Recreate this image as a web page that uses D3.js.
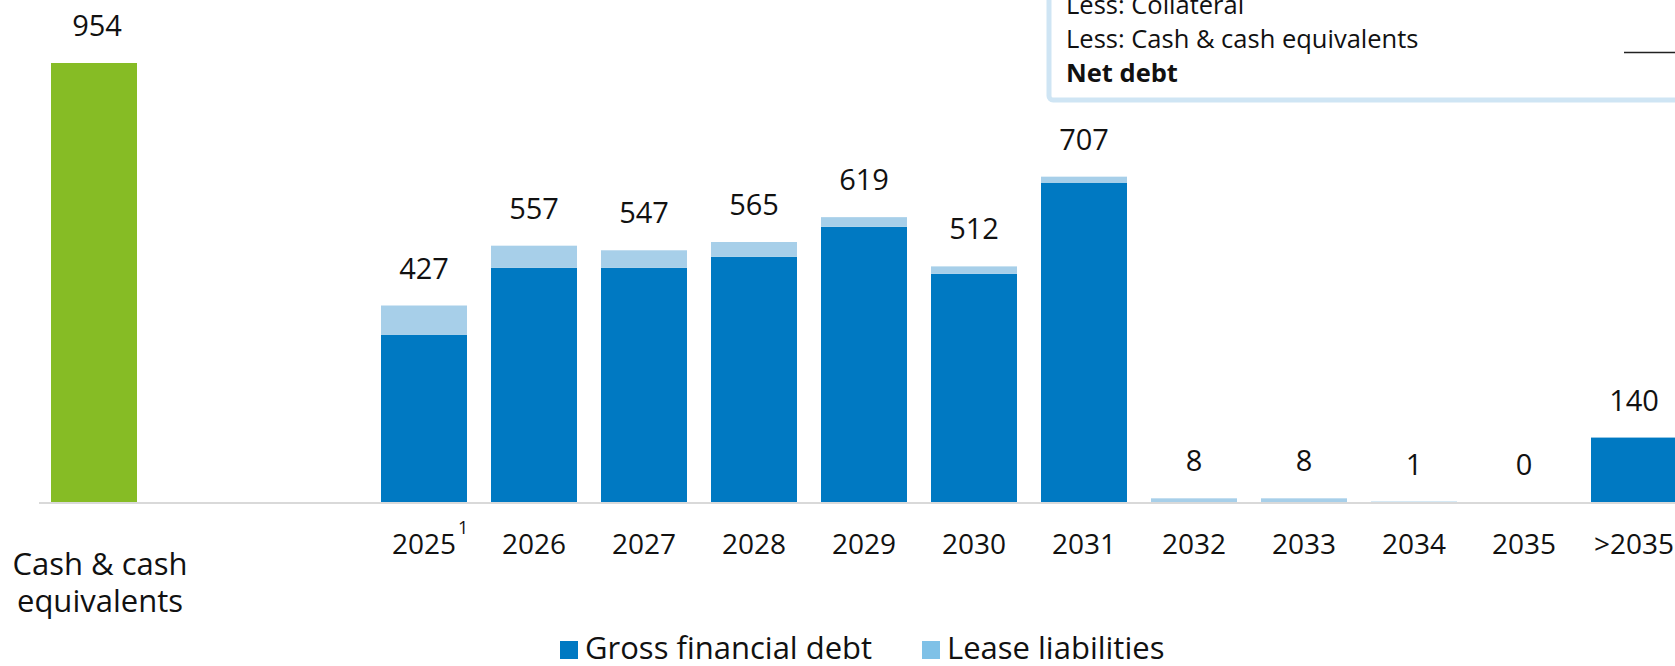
<!DOCTYPE html>
<html>
<head>
<meta charset="utf-8">
<script src="https://cdn.jsdelivr.net/npm/d3@7"></script>
<style>
  html, body { margin: 0; padding: 0; background: #fff; overflow: hidden; }
  svg { display: block; font-family: "Open Sans", "Noto Sans", sans-serif; }
</style>
</head>
<body>
<svg width="1675" height="666"></svg>
<script>
var width = 1675, height = 666;

// data
var cashLabel = ["Cash & cash", "equivalents"];
var cashValue = 954;
var years = ["2025", "2026", "2027", "2028", "2029", "2030", "2031", "2032", "2033", "2034", "2035", ">2035"];
var grossDebt = [363, 509, 509, 533, 598, 496, 694, 0, 0, 0, 0, 140];
var leaseLiab = [64, 48, 38, 32, 21, 16, 13, 8, 8, 1, 0, 0];
var totals = [427, 557, 547, 565, 619, 512, 707, 8, 8, 1, 0, 140];
var legendNames = ["Gross financial debt", "Lease liabilities"];
var tableRows = ["Less: Collateral", "Less: Cash & cash equivalents", "Net debt"];

var green = "#86bc25", dark = "#0079c2", light = "#a7cfe9", lightLegend = "#7fc1e7";

var svg = d3.select("svg")
    .attr("width", width)
    .attr("height", height);

// slots: cash bar, two empty slots, then the years
var slots = ["cash", "gap1", "gap2"].concat(years);

var x = d3.scaleBand()
    .domain(slots)
    .range([39, 39 + 110 * slots.length])
    .paddingInner(24 / 110)
    .paddingOuter(12 / 110);

var y = d3.scaleLinear()
    .domain([0, 954])
    .range([502, 63]);

// table box at the top right (cut off by the frame)
var box = svg.append("g");
box.append("rect")
    .attr("x", 1049).attr("y", -40)
    .attr("width", 700).attr("height", 140)
    .attr("rx", 4)
    .attr("fill", "#fff")
    .attr("stroke", "#cfe5f4")
    .attr("stroke-width", 5);
box.selectAll("text")
    .data(tableRows)
    .enter().append("text")
    .attr("x", 1066)
    .attr("y", function (d, i) { return 14 + i * 34; })
    .attr("font-size", 25.5)
    .attr("font-weight", function (d, i) { return i == 2 ? "bold" : "normal"; })
    .attr("fill", "#111")
    .text(function (d) { return d; });
box.append("line")
    .attr("x1", 1624).attr("x2", 1680)
    .attr("y1", 52.5).attr("y2", 52.5)
    .attr("stroke", "#222")
    .attr("stroke-width", 1.5);

// axis line
svg.append("line")
    .attr("x1", 39).attr("x2", width)
    .attr("y1", 503).attr("y2", 503)
    .attr("stroke", "#d9d9d9")
    .attr("stroke-width", 2);

// cash bar
svg.append("rect")
    .attr("x", x("cash"))
    .attr("y", y(cashValue))
    .attr("width", x.bandwidth())
    .attr("height", y(0) - y(cashValue))
    .attr("fill", green);

svg.append("text")
    .attr("x", x("cash") + x.bandwidth() / 2 + 3)
    .attr("y", y(cashValue) - 27)
    .attr("text-anchor", "middle")
    .attr("font-size", 29)
    .attr("fill", "#111")
    .text(cashValue);

svg.selectAll(".cashlab")
    .data(cashLabel)
    .enter().append("text")
    .attr("class", "cashlab")
    .attr("x", x("cash") + x.bandwidth() / 2 + 6)
    .attr("y", function (d, i) { return 575 + i * 37; })
    .attr("text-anchor", "middle")
    .attr("font-size", 31)
    .attr("fill", "#111")
    .text(function (d) { return d; });

// stacked debt bars
var rows = years.map(function (yr, i) {
    return { year: yr, gross: grossDebt[i], lease: leaseLiab[i], total: totals[i] };
});
var stack = d3.stack().keys(["gross", "lease"])(rows);
var colors = { gross: dark, lease: light };

svg.append("g").selectAll("g")
    .data(stack)
    .enter().append("g")
    .attr("fill", function (d) { return colors[d.key]; })
    .selectAll("rect")
    .data(function (d) { return d; })
    .enter().append("rect")
    .attr("x", function (d) { return x(d.data.year); })
    .attr("y", function (d) { return y(d[1]); })
    .attr("width", x.bandwidth())
    .attr("height", function (d) { return y(d[0]) - y(d[1]); });

// total labels
svg.append("g").selectAll("text")
    .data(rows)
    .enter().append("text")
    .attr("x", function (d) { return x(d.year) + x.bandwidth() / 2; })
    .attr("y", function (d) { return y(d.total) - 27; })
    .attr("text-anchor", "middle")
    .attr("font-size", 29)
    .attr("fill", "#111")
    .text(function (d) { return d.total; });

// year labels
var yearLabels = svg.append("g").selectAll("text")
    .data(years)
    .enter().append("text")
    .attr("x", function (d) { return x(d) + x.bandwidth() / 2; })
    .attr("y", 554)
    .attr("text-anchor", "middle")
    .attr("font-size", 28)
    .attr("fill", "#111")
    .text(function (d) { return d; });

// footnote mark on 2025
var first = yearLabels.filter(function (d, i) { return i == 0; }).node();
var w0 = first.getComputedTextLength();
svg.append("text")
    .attr("x", x(years[0]) + x.bandwidth() / 2 + w0 / 2 + 2)
    .attr("y", 534)
    .attr("font-size", 18)
    .attr("fill", "#111")
    .text("1");

// legend
var legendX = [560, 922];
var lg = svg.append("g").selectAll("g")
    .data(legendNames)
    .enter().append("g")
    .attr("transform", function (d, i) { return "translate(" + legendX[i] + ",0)"; });
lg.append("rect")
    .attr("x", 0).attr("y", 641)
    .attr("width", 18).attr("height", 18)
    .attr("fill", function (d, i) { return i == 0 ? dark : lightLegend; });
lg.append("text")
    .attr("x", 25).attr("y", 659)
    .attr("font-size", 31)
    .attr("fill", "#111")
    .text(function (d) { return d; });
</script>
</body>
</html>
